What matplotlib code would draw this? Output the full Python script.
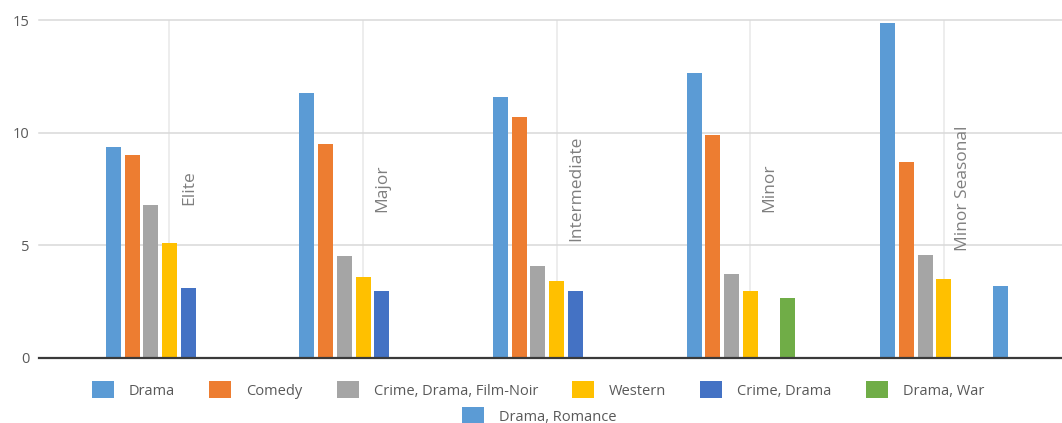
import numpy as np
import matplotlib
matplotlib.use("Agg")
import matplotlib.pyplot as plt

# ----------------------------------------------------------------------
# DATA
# ----------------------------------------------------------------------
categories = ["Elite", "Major", "Intermediate", "Minor", "Minor Seasonal"]
series_names = ["Drama", "Comedy", "Crime, Drama, Film-Noir", "Western",
                "Crime, Drama", "Drama, War", "Drama, Romance"]

drama          = [9.35, 11.77, 11.57, 12.66, 14.86]
comedy         = [8.99, 9.48, 10.68, 9.88, 8.70]
crime_noir     = [6.76, 4.49, 4.05, 3.69, 4.56]
western        = [5.07, 3.60, 3.38, 2.96, 3.47]
crime_drama    = [3.09, 2.94, 2.94, None, None]
drama_war      = [None, None, None, 2.65, None]
drama_romance  = [None, None, None, None, 3.18]

series_values = [drama, comedy, crime_noir, western,
                 crime_drama, drama_war, drama_romance]
colors = ["#5B9BD5", "#ED7D31", "#A5A5A5", "#FFC000",
          "#4472C4", "#70AD47", "#5B9BD5"]
y_ticks = [0, 5, 10, 15]

# ----------------------------------------------------------------------
# PLOT
# ----------------------------------------------------------------------
plt.rcParams["font.family"] = ["Open Sans", "DejaVu Sans"]

W, H = 1062, 423
fig = plt.figure(figsize=(W / 100, H / 100), dpi=100)
ax = fig.add_axes([39 / W, 65.5 / H, 1 - 39 / W, 337.5 / H])

slot = 0.0966
bar_w = 0.0775
x = np.arange(len(categories))

handles = []
for k, (vals, col) in enumerate(zip(series_values, colors)):
    idx = [i for i, v in enumerate(vals) if v is not None]
    h = ax.bar(x[idx] + (k - 3) * slot, [vals[i] for i in idx],
               width=bar_w, color=col, zorder=3)
    handles.append(h)

ax.set_xlim(-0.674, 4.61)
ax.set_ylim(0, 15)

ax.set_yticks(y_ticks)
ax.set_yticklabels([str(t) for t in y_ticks], fontsize=10.5, color="#595959")
ax.tick_params(axis="y", length=0, pad=7)
ax.set_xticks(x)
ax.set_xticklabels([])
ax.tick_params(axis="x", length=0)

ax.grid(axis="y", color="#d9d9d9", lw=1.1, zorder=0)
ax.grid(axis="x", color="#e8e8e8", lw=1.1, zorder=0)
ax.set_axisbelow(True)
for gl in ax.get_ygridlines():
    gl.set_clip_on(False)

for s in ["top", "right", "left"]:
    ax.spines[s].set_visible(False)
ax.spines["bottom"].set_color("#3a3a3a")
ax.spines["bottom"].set_linewidth(1.6)
ax.spines["bottom"].set_zorder(4)

# category names sit next to the group gridline, rotated
for i, name in enumerate(categories):
    ax.text(i + 0.1, 7.54, name, rotation=90, ha="center", va="center",
            fontsize=12.5, color="#7f7f7f", zorder=5)

# legend: six on the first row, the last one centred below
leg_kw = dict(frameon=False, fontsize=10.5, handlelength=1.51,
              handleheight=1.37, handletextpad=1.03, columnspacing=2.33,
              borderpad=0, borderaxespad=0, labelcolor="#595959")
fig.legend(handles[:6], series_names[:6], loc="center", ncol=6,
           bbox_to_anchor=(538 / W, 1 - 390 / H), **leg_kw)
fig.legend(handles[6:], series_names[6:], loc="center", ncol=1,
           bbox_to_anchor=(539.5 / W, 1 - 416 / H), **leg_kw)

fig.savefig("out.png", dpi=100)
